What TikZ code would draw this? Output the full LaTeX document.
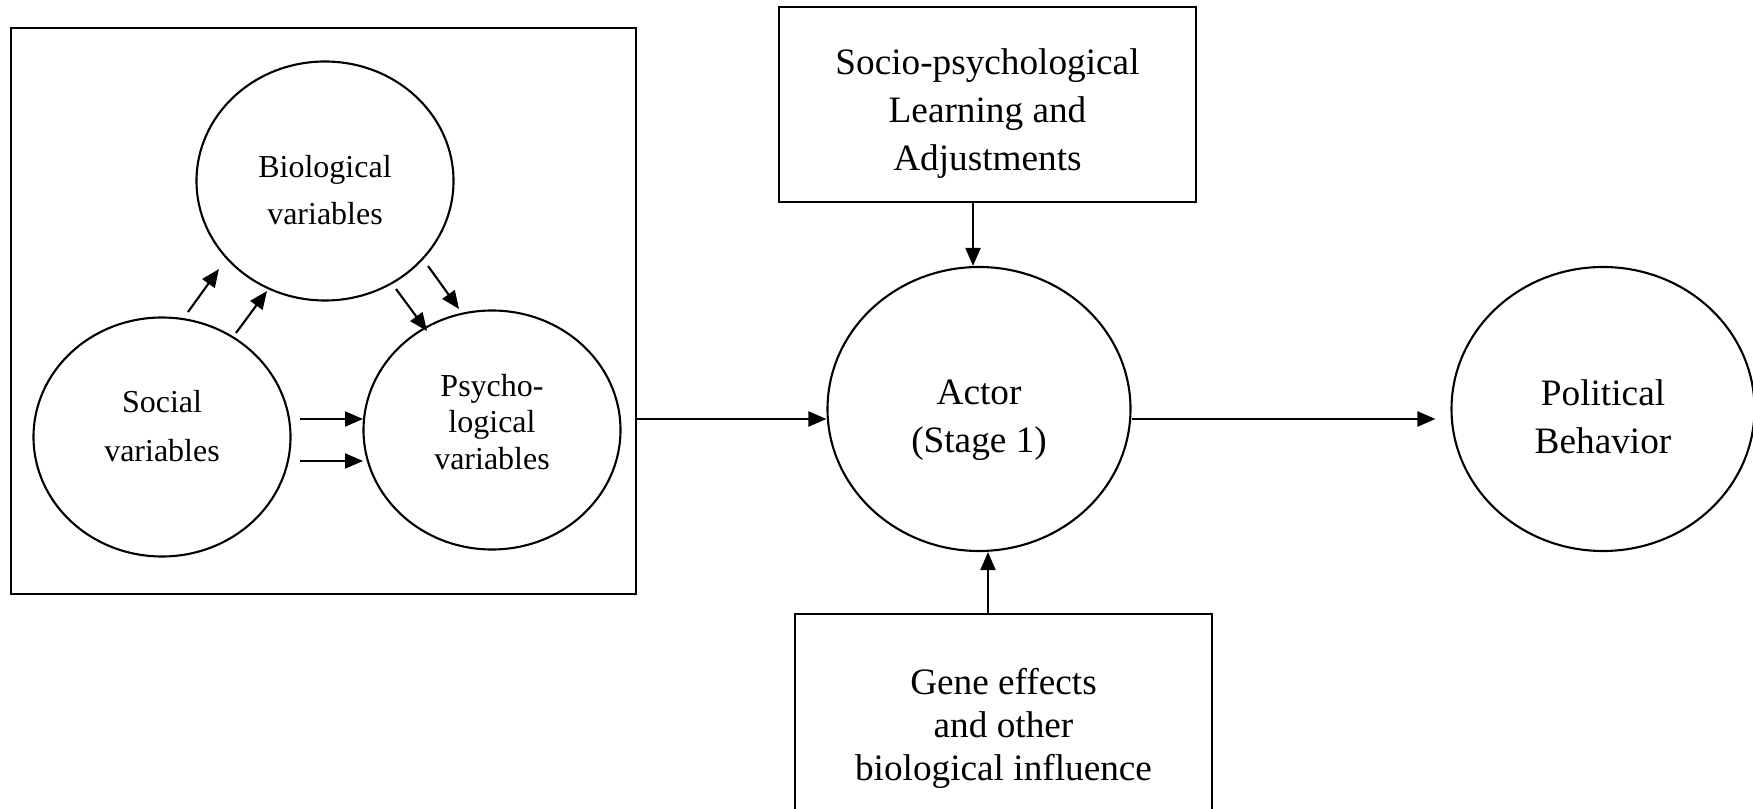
\documentclass[tikz,border=0pt]{standalone}
\usepackage{fontspec}
\setmainfont{Liberation Serif}
\usetikzlibrary{arrows.meta,shapes.geometric,positioning,calc}

\begin{document}
\begin{tikzpicture}[
    line width=0.6pt,
    arr/.style={-{Triangle[length=1.8mm,width=1.5mm]}},
    smallfont/.style={align=center, inner sep=0pt, font=\fontsize{9.1}{13.4}\selectfont},
    bigfont/.style={align=center, inner sep=0pt, font=\fontsize{10.6}{13.6}\selectfont},
    bubble/.style={draw, ellipse, inner sep=0pt, minimum width=2.57cm, minimum height=2.39cm},
    bigbubble/.style={draw, ellipse, inner sep=0pt, minimum width=3.03cm, minimum height=2.84cm},
    factor/.style={draw, rectangle, inner sep=0pt, minimum width=4.17cm}
]
    % Page size
    \useasboundingbox (0,0) rectangle (17.53,-8.09);
    \clip (0,0) rectangle (17.53,-8.09);

    % Draw the frame round the three variables
    \node[draw, inner sep=0pt, minimum width=6.25cm, minimum height=5.66cm] (frame) at (3.235,-3.11) {};

    % Draw the three variables
    \node[bubble] (bio) at (3.25,-1.81) {};
    \node[bubble] (social) at (1.62,-4.37) {};
    \node[bubble] (psycho) at (4.92,-4.30) {};
    \node[smallfont] (bio-text) at ([yshift=-0.9mm]bio.center) {Biological\\variables};
    \node[smallfont, font=\fontsize{9.1}{13.8}\selectfont] (social-text) at ([yshift=1.1mm]social.center) {Social\\variables};
    \node[smallfont, font=\fontsize{9.1}{10.5}\selectfont] (psycho-text) at ([yshift=0.8mm]psycho.center) {Psycho-\\logical\\variables};

    % Draw the actor and the behaviour
    \node[bigbubble] (actor) at (9.79,-4.09) {};
    \node[bigbubble] (pol) at (16.03,-4.09) {};
    \node[bigfont] (actor-text) at ([yshift=-1.1mm]actor.center) {Actor\\(Stage 1)};
    \node[bigfont] (pol-text) at ([yshift=-0.8mm]pol.center) {Political\\Behavior};

    % Draw the two outside influences
    \node[factor, minimum height=1.95cm] (socio) at (9.875,-1.045) {};
    \node[factor, minimum height=2.2cm] (gene) at (10.035,-7.24) {};
    \node[bigfont] (socio-text) at ([yshift=-0.9mm]socio.center) {Socio-psychological\\Learning and\\Adjustments};
    \node[bigfont, font=\fontsize{10.6}{12.2}\selectfont] (gene-text) at ([yshift=-0.45mm]gene.center) {Gene effects\\and other\\biological influence};

    % End points of the small arrows
    \coordinate (sb1) at (1.88,-3.12);
    \coordinate (bs1) at (2.19,-2.69);
    \coordinate (sb2) at (2.36,-3.33);
    \coordinate (bs2) at (2.67,-2.91);
    \coordinate (bp1) at (3.96,-2.89);
    \coordinate (pb1) at (4.27,-3.31);
    \coordinate (bp2) at (4.28,-2.66);
    \coordinate (pb2) at (4.59,-3.09);
    \coordinate (sp1) at (3.00,-4.19);
    \coordinate (ps1) at (3.63,-4.19);
    \coordinate (sp2) at (3.00,-4.61);
    \coordinate (ps2) at (3.63,-4.61);

    % Draw the arrows inside the frame
    \draw[arr] (sb1) -- (bs1);
    \draw[arr] (sb2) -- (bs2);
    \draw[arr] (bp1) -- (pb1);
    \draw[arr] (bp2) -- (pb2);
    \draw[arr] (sp1) -- (ps1);
    \draw[arr] (sp2) -- (ps2);

    % Draw the arrows to and from the actor
    \coordinate (feedin) at ([yshift=-1mm]actor.west);
    \coordinate (socidown) at ([xshift=-0.6mm]actor.north);
    \coordinate (geneup) at ([xshift=0.9mm]actor.south);
    \draw[arr] (frame.east |- feedin) -- (feedin);
    \draw[arr] (socio.south -| socidown) -- (socidown);
    \draw[arr] (gene.north -| geneup) -- (geneup);
    \draw[arr] ([yshift=-1mm]actor.east) -- ([xshift=-1.5mm,yshift=-1mm]pol.west);
\end{tikzpicture}
\end{document}
